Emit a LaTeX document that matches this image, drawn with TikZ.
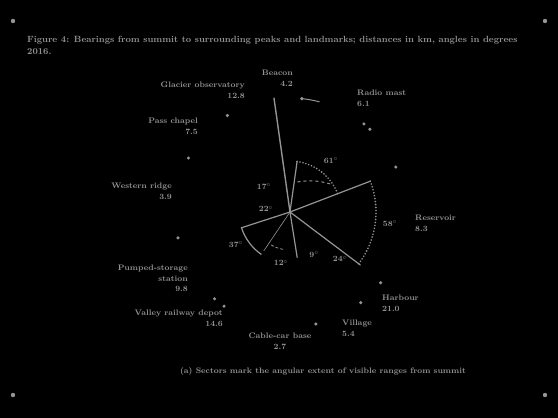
\documentclass[tikz,border=0pt]{standalone}
\usepackage{tikz}
\usetikzlibrary{positioning}
\definecolor{ink}{gray}{0.58}
\begin{document}
\begin{tikzpicture}[x=1pt,y=1pt,
                place/.style={font=\fontsize{8}{10.5}\selectfont\bfseries, text=ink, inner sep=0pt},
                angle lbl/.style={font=\fontsize{8}{10}\selectfont\bfseries, text=ink, inner sep=0pt},
                ray/.style={draw=ink, line width=1.2pt, line cap=round},
                rim/.style={draw=ink, line width=1.8pt, line cap=round, dash pattern=on 0pt off 3pt},
                mark dot/.style={fill=ink}]
                % Background and frame marks
                \fill[black] (0,0) rectangle (558,-418);
                \useasboundingbox (0,0) rectangle (558,-418);
                \foreach \x/\y in {13/21, 545/21, 13/395, 545/395}
                    \fill[ink] (\x,-\y) circle (2.2);

                % Title
                \node[place, font=\fontsize{9}{12}\selectfont\bfseries, anchor=north west, align=left] (title) at (27,-36)
                    {Figure 4: Bearings from summit to surrounding peaks and landmarks; distances in km, angles in degrees\\2016.};

                % Centre and ray ends
                \begin{scope}[shift={(290,-212)}]
                    \coordinate (c) at (0,0);
                    \coordinate (beacon tip) at (98:115);
                    \coordinate (s1 top) at (82:51);
                    \coordinate (s1 low) at (21:51);
                    \coordinate (s2 top) at (21:86);
                    \coordinate (s2 low) at (-37:88);
                    \coordinate (s3 top) at (198:51);
                    \coordinate (s3 low) at (235:52);
                    \coordinate (fan a) at (236:47);
                    \coordinate (fan b) at (279:46);
                    \coordinate (arc a) at (84:114);

                    % Sectors
                    \draw[ray, line width=1.4pt] (c) -- (beacon tip);
                    \draw[ray] (c) -- (s1 top);
                    \draw[rim] (s1 top) arc[start angle=82, end angle=21, radius=51];
                    \draw[ink, line width=1pt, dash pattern=on 3pt off 3pt] (76:31) to[bend left=12] (35:49);
                    \draw[ray] (c) -- (s2 top);
                    \draw[rim] (s2 top) arc[start angle=21, end angle=-37, radius=86];
                    \draw[ray] (c) -- (s2 low);
                    \draw[ray] (c) -- (s3 top) arc[start angle=198, end angle=235, radius=52];
                    \draw[ink, line width=0.6pt] (c) -- (fan a);
                    \draw[ink, line width=0.8pt, dash pattern=on 3pt off 2pt] (240:38) arc[start angle=240, end angle=262, radius=38];
                    \draw[ray] (c) -- (fan b);

                    % Ring marks
                    \fill[ink] (arc a) circle (1.8);
                    \draw[ink, line width=1pt] (arc a) arc[start angle=84, end angle=75, radius=114];
                    \foreach \a in {23, 46, 50, 123, 152, 193, 229, 235, 283, 308, 322}
                        \fill[ink] (\a:115) circle (1.7);
                \end{scope}

                % Angle labels
                \node[angle lbl] (a1) at (331,-161) {61$^\circ$};
                \node[angle lbl] (a2) at (390,-224) {58$^\circ$};
                \node[angle lbl] (a3) at (236,-245) {37$^\circ$};
                \node[angle lbl] (a4) at (264,-187) {17$^\circ$};
                \node[angle lbl] (a5) at (266,-209) {22$^\circ$};
                \node[angle lbl] (a6) at (281,-263) {12$^\circ$};
                \node[angle lbl] (a7) at (314,-255) {9$^\circ$};
                \node[angle lbl] (a8) at (340,-259) {24$^\circ$};

                % Landmarks round the ring - name, then distance
                \node[place, anchor=north east, align=right] (beacon) at (293,-70) {Beacon\\4.2};
                \node[place, anchor=north east, align=right] (glacier) at (245,-82) {Glacier observatory\\12.8};
                \node[place, anchor=north west, align=left] (mast) at (357,-90) {Radio mast\\6.1};
                \node[place, anchor=north east, align=right] (chapel) at (198,-118) {Pass chapel\\7.5};
                \node[place, anchor=north east, align=right] (ridge) at (172,-183) {Western ridge\\3.9};
                \node[place, anchor=north west, align=left] (reservoir) at (415,-215) {Reservoir\\8.3};
                \node[place, anchor=north east, align=right] (dam) at (188,-265) {Pumped-storage\\station\\9.8};
                \node[place, anchor=north east, align=right] (rail) at (223,-310) {Valley railway depot\\14.6};
                \node[place, anchor=north west, align=left] (harbour) at (382,-295) {Harbour\\21.0};
                \node[place, anchor=north west, align=left] (village) at (342,-320) {Village\\5.4};
                \node[place, anchor=north, align=center] (cable) at (280,-333) {Cable-car base\\2.7};

                % Caption
                \node[place, anchor=north] (caption) at (323,-367) {(a) Sectors mark the angular extent of visible ranges from summit};
\end{tikzpicture}
\end{document}
